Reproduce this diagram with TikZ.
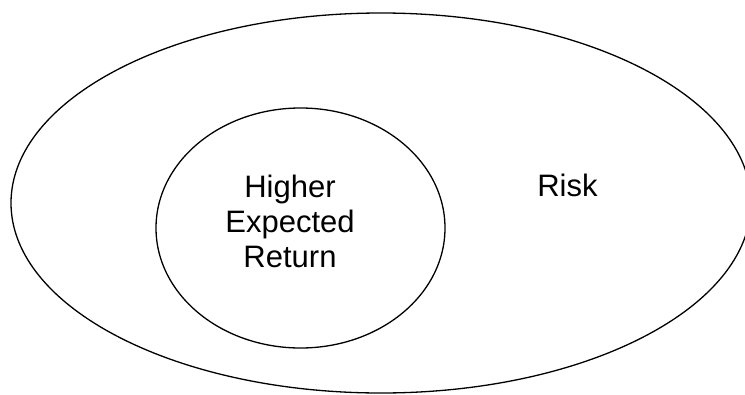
\documentclass[tikz,border=0pt]{standalone}
\usepackage{fontspec}
\setmainfont{Liberation Sans}
\usetikzlibrary{shapes.geometric}

\begin{document}
\begin{tikzpicture}[x=1pt, y=-1pt,
          set/.style={ellipse, draw=black, line width=1.3pt, inner sep=0pt},
          lbl/.style={font=\fontsize{31}{35}\selectfont, inner sep=0pt, align=center}]
        \useasboundingbox (0,0) rectangle (745,394);
        \node[set, minimum width=740pt, minimum height=380pt] (risk) at (381,203) {};
        \node[set, minimum width=289pt, minimum height=240pt] (ret) at (300.5,228) {};
        \node[lbl] (retlbl) at (290,221) {Higher\\Expected\\Return};
        \node[lbl, anchor=base] (risklbl) at (567.5,196) {Risk};
      \end{tikzpicture}
\end{document}
